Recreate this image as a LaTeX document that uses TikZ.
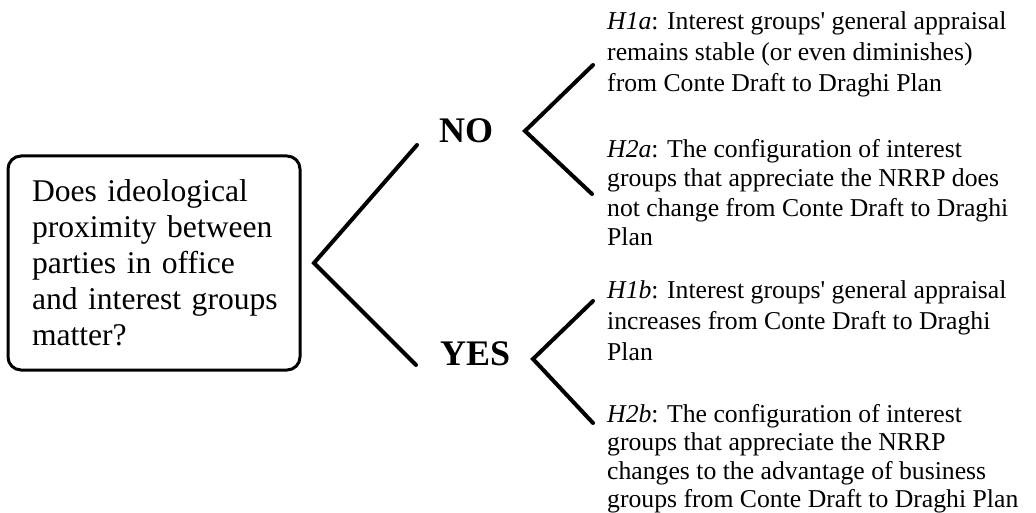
\documentclass[tikz,border=0pt]{standalone}
\usepackage{fontspec}
\setmainfont{Liberation Serif}
\begin{document}
\begin{tikzpicture}[x=1pt,y=-1pt,
  hyp/.style={anchor=north west, inner sep=0pt, align=left},
  ans/.style={anchor=base west, inner sep=0pt, font=\fontsize{36}{40}\selectfont\bfseries},
  branch/.style={line width=4pt, line cap=round, line join=miter}]
\useasboundingbox (0,0) rectangle (1036,513);
\node[draw, line width=3pt, rounded corners=13pt, text width=244pt, inner xsep=24pt, inner ysep=0pt,
      minimum height=214pt, align=left, font=\fontsize{31.6}{36}\selectfont] (q) at (154,263)
  {\mbox{Does ideological}\\ \mbox{proximity between}\\ \mbox{parties in office}\\ \mbox{and interest groups}\\ \mbox{matter?}};
\node[ans] (no) at (439,143) {NO};
\node[ans] (yes) at (440,365) {YES};
\coordinate (r) at (314,263);
\coordinate (rn) at (417,145);
\coordinate (ry) at (416,365);
\draw[branch] (rn) -- (r) -- (ry);
\coordinate (n) at (525,131);
\coordinate (na) at (593,65);
\coordinate (nb) at (592,194);
\draw[branch] (na) -- (n) -- (nb);
\coordinate (y) at (533,359);
\coordinate (ya) at (593,301);
\coordinate (yb) at (593,423);
\draw[branch] (ya) -- (y) -- (yb);
\node[hyp, font=\fontsize{25.7}{31}\selectfont] (h1a) at (607,11.5)
  {\textit{H1a}: Interest groups\textquotesingle\ general appraisal\\ remains stable (or even diminishes)\\ from Conte Draft to Draghi Plan};
\node[hyp, font=\fontsize{25.7}{29.5}\selectfont] (h2a) at (607,139)
  {\textit{H2a}: The configuration of interest\\ groups that appreciate the NRRP does\\ not change from Conte Draft to Draghi\\ Plan};
\node[hyp, font=\fontsize{25.7}{31}\selectfont] (h1b) at (607,280.5)
  {\textit{H1b}: Interest groups\textquotesingle\ general appraisal\\ increases from Conte Draft to Draghi\\ Plan};
\node[hyp, font=\fontsize{25.7}{28.5}\selectfont] (h2b) at (607,404)
  {\textit{H2b}: The configuration of interest\\ groups that appreciate the NRRP\\ changes to the advantage of business\\ groups from Conte Draft to Draghi Plan};
\end{tikzpicture}
\end{document}
